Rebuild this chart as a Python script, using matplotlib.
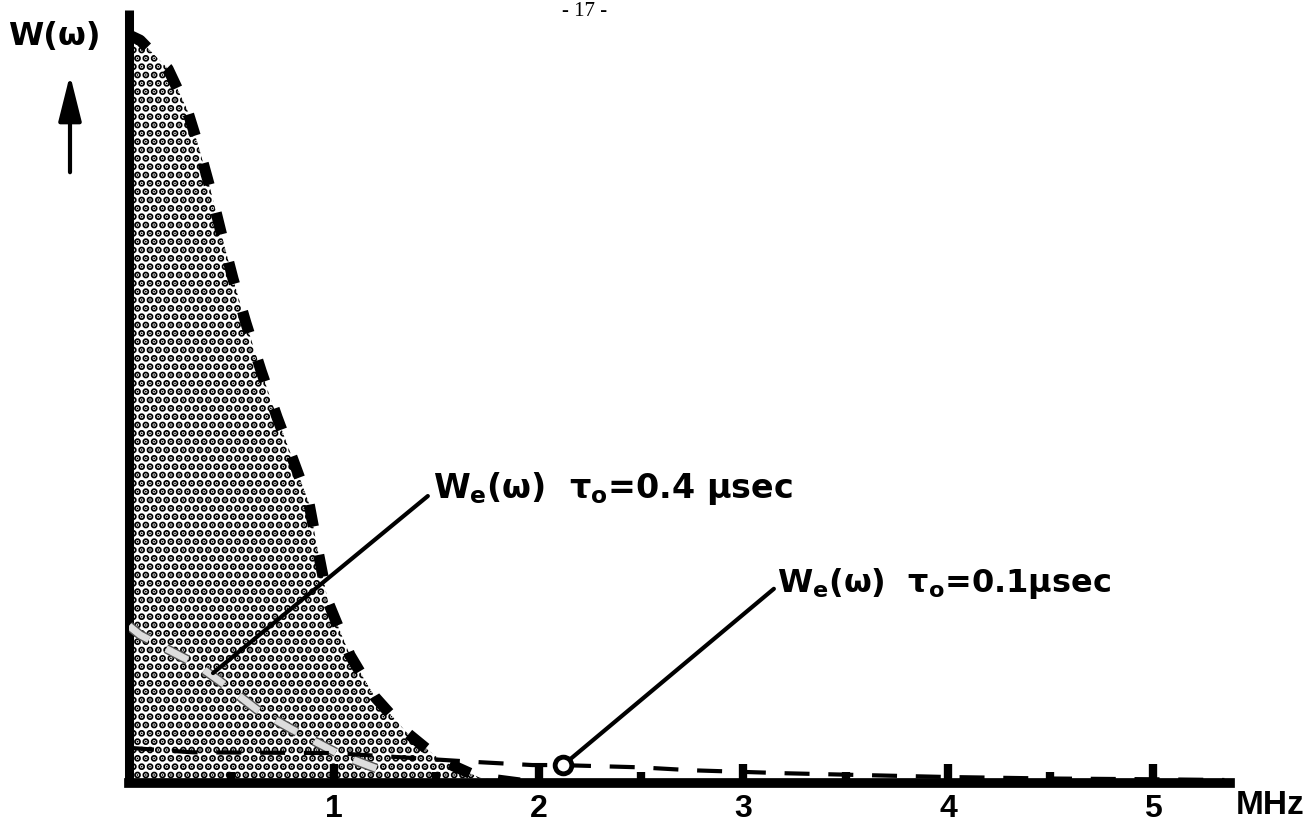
import numpy as np
import matplotlib
matplotlib.use('Agg')
import matplotlib.pyplot as plt
import matplotlib.patheffects as pe

# 字体设置
plt.rcParams['font.family'] = ['DejaVu Sans']
plt.rcParams['mathtext.fontset'] = 'custom'
plt.rcParams['mathtext.rm'] = 'DejaVu Sans:bold'
plt.rcParams['mathtext.it'] = 'DejaVu Sans:bold'
plt.rcParams['mathtext.bf'] = 'DejaVu Sans:bold'
plt.rcParams['hatch.linewidth'] = 3.6

# 粗虚线 (包络, 下方网点填充)
env_mhz = [0.0, 0.054, 0.19, 0.283, 0.342, 0.40, 0.454, 0.508, 0.571, 0.645, 0.723,
           0.801, 0.879, 0.923, 0.972, 1.079, 1.201, 1.358, 1.519, 1.714, 1.91]
env_w = [1.0, 0.993, 0.955, 0.901, 0.849, 0.791, 0.731, 0.674, 0.615, 0.551, 0.489,
         0.432, 0.374, 0.31, 0.242, 0.171, 0.115, 0.067, 0.031, 0.007, 0.0]

# We(w) tau0 = 0.4 usec (网点区内的虚线)
w04_mhz = [0.0, 0.054, 0.332, 0.469, 0.625, 0.801, 1.03, 1.25]
w04_w = [0.21, 0.198, 0.158, 0.131, 0.098, 0.071, 0.038, 0.015]

# We(w) tau0 = 0.1 usec (平缓的细虚线)
w01_mhz = [0.0, 0.31, 1.0, 1.7, 1.97, 2.1, 2.49, 2.75, 3.21, 3.52, 4.0, 4.5, 5.0, 5.35]
w01_w = [0.047, 0.041, 0.040, 0.028, 0.024, 0.024, 0.021, 0.017, 0.013, 0.011, 0.008,
         0.006, 0.005, 0.004]

major_ticks = [1, 2, 3, 4, 5]
minor_ticks = [0.5, 1.5, 2.5, 3.5, 4.5]
tick_labels = ['1', '2', '3', '4', '5']

W, H = 1312, 827
fig = plt.figure(figsize=(W / 100, H / 100), dpi=100)
ax = fig.add_axes([129 / W, 1 - 783 / H, (1230 - 129) / W, (783 - 10) / H])
ax.set_xlim(0, (1230 - 129) / 204.75)
ax.set_ylim(0, (783 - 10) / 748)

# 网点填充
fill = ax.fill_between(env_mhz, env_w, 0, facecolor='white', edgecolor='black',
                       hatch='..', linewidth=0, zorder=1)
if hasattr(fill, 'set_hatch_linewidth'):
    fill.set_hatch_linewidth(3.6)
ax.plot(env_mhz, env_w, color='black', lw=8, linestyle=(0, (2.0, 2.6)),
        dash_capstyle='butt', zorder=3)
ax.plot(w04_mhz, w04_w, color='#dddddd', lw=5, linestyle=(0, (3.5, 2.8)),
        dash_capstyle='butt', zorder=3,
        path_effects=[pe.Stroke(linewidth=7, foreground='#555555'), pe.Normal()])
ax.plot(w01_mhz, w01_w, color='black', lw=3, linestyle=(0, (6, 4.5)),
        dash_capstyle='butt', zorder=3)

# 坐标轴
for s in ['top', 'right']:
    ax.spines[s].set_visible(False)
ax.spines['left'].set_linewidth(6.5)
ax.spines['bottom'].set_linewidth(7)
ax.spines['left'].set_capstyle('butt')
ax.set_yticks([])
ax.set_xticks(major_ticks)
ax.set_xticklabels(tick_labels, fontsize=23, fontweight='bold',
                   family=['Liberation Sans Narrow', 'Liberation Sans', 'DejaVu Sans'])
ax.set_xticks(minor_ticks, minor=True)
ax.tick_params(axis='x', which='major', direction='in', length=14, width=6, pad=8)
ax.tick_params(axis='x', which='minor', direction='in', length=8, width=6)
ax.patch.set_alpha(0)

# 标注
x1 = 0.40
y1 = np.interp(x1, w04_mhz, w04_w)
ax.annotate('', xy=(x1, y1), xytext=(1.47, 0.386),
            arrowprops=dict(arrowstyle='-', lw=3, color='black'), zorder=4)
ax.text(1.485, 0.381, r'$W_e$(ω)  $τ_o$=0.4 µsec', fontsize=24, fontweight='bold',
        ha='left', va='baseline')

x2 = 2.12
y2 = np.interp(x2, w01_mhz, w01_w)
ax.annotate('', xy=(x2, y2), xytext=(3.16, 0.262),
            arrowprops=dict(arrowstyle='-', lw=3, color='black'), zorder=4)
ax.plot([x2], [y2], marker='o', ms=12, mfc='white', mec='black', mew=3.5, zorder=5)
ax.text(3.165, 0.255, r'$W_e$(ω)  $τ_o$=0.1µsec', fontsize=23, fontweight='bold',
        ha='left', va='baseline')

fig.text(1236 / W, 1 - 806 / H, 'MHz', fontsize=24, fontweight='bold', va='center',
         family=['Liberation Sans Narrow', 'Liberation Sans', 'DejaVu Sans'])

# 左上角 W(w) 和箭头
fig.text(8 / W, 1 - 36 / H, 'W(ω)', fontsize=23, fontweight='bold', va='center')
ax.annotate('', xy=(70, H - 72), xytext=(70, H - 175), xycoords='figure pixels',
            textcoords='figure pixels',
            arrowprops=dict(arrowstyle='-|>,head_length=1.4,head_width=0.35', lw=3,
                            color='black', mutation_scale=20))

fig.text(585 / W, 1 - 11 / H, '- 17 -', fontsize=15, family='Liberation Serif',
         ha='center', va='center')

fig.savefig('out.png', dpi=100, facecolor='white')
